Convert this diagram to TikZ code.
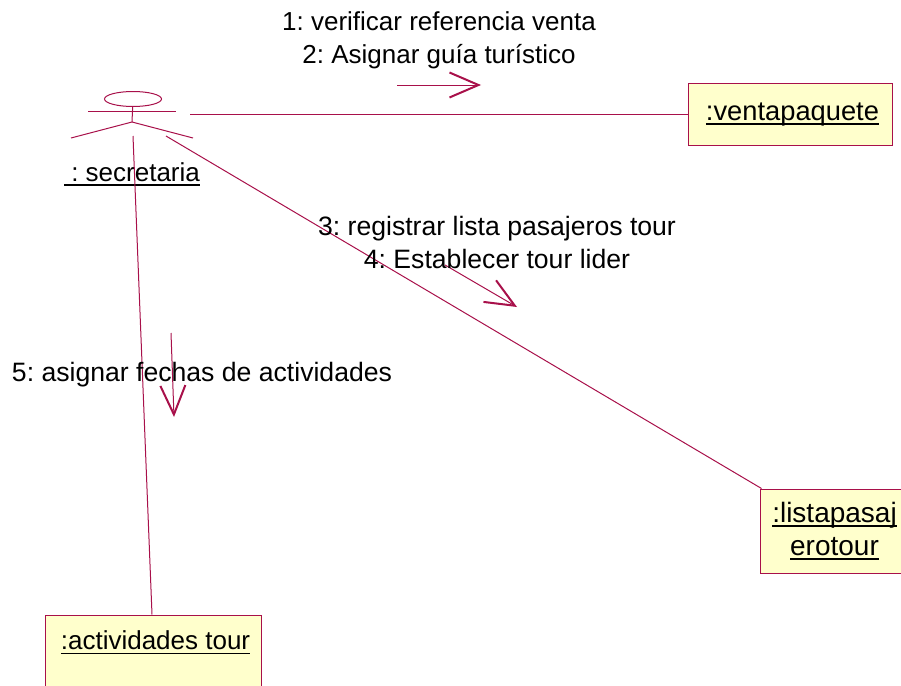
\documentclass[tikz,border=0pt]{standalone}
\usepackage{fontspec}
\setmainfont{Liberation Sans}
\usepackage{tikz}
\usetikzlibrary{arrows.meta,shapes.geometric}
\definecolor{umlline}{RGB}{168,16,74}
\definecolor{umlfill}{RGB}{255,255,204}
\newcommand{\objname}[1]{\leavevmode\setbox0\hbox{#1}\rlap{\rule[-4.5pt]{\wd0}{1.8pt}}\box0}
\newcommand{\textsized}[1]{\fontsize{#1}{33}\selectfont}
\frenchspacing

\begin{document}
\begin{tikzpicture}[x=1pt,y=-1pt,>={Straight Barb[length=29pt,width=25pt,line width=2pt]},
                    font=\textsized{26},line width=1pt]
  \tikzstyle{every object}=[draw=umlline,fill=umlfill,text=black,rectangle,align=center,inner sep=0pt]
  \tikzstyle{link}=[draw=umlline,-]
  \tikzstyle{message}=[draw=umlline,->]
  \tikzstyle{label}=[align=center,inner sep=0pt]

  \useasboundingbox (0,0) rectangle (901,685);
  \clip (0,0) rectangle (901,685);

  % actor
  \node[ellipse,draw=umlline,minimum width=57pt,minimum height=15pt,inner sep=0pt] (head) at (133,99) {};
  \coordinate (neck) at (132,122);
  \coordinate (armleft) at (88,111);
  \coordinate (armright) at (176,111);
  \coordinate (legleft) at (71,138);
  \coordinate (legright) at (193,138);
  \node[label] (secretaria) at (132,174) {\objname{\ : secretaria}};

  % objects
  \node[every object,minimum width=204pt,minimum height=62pt,font=\textsized{27.3}] (ventapaquete) at (790,114.5) {\hspace*{5pt}\objname{:ventapaquete}};
  \node[every object,minimum width=142pt,minimum height=84pt,font=\textsized{28}] (listapasajerotour) at (831,531) {\hspace*{7pt}\objname{:listapasaj}\\\hspace*{7pt}\objname{erotour}};
  \node[every object,minimum width=216pt,minimum height=84pt] (actividades) at (153,657) {\hspace*{5pt}\objname{:actividades tour}\\~};

  % free ends of the links and of the message arrows
  \coordinate (linkv) at (190,114.5);
  \coordinate (linkl) at (166,136);
  \coordinate (linka) at (133,136);
  \coordinate (m1a) at (397,85);
  \coordinate (m1b) at (481,85);
  \coordinate (m3a) at (445,265);
  \coordinate (m3b) at (517,307);
  \coordinate (m5a) at (171,333);
  \coordinate (m5b) at (174,417);

  \draw[link] (head) -- (neck);
  \draw[link] (armleft) -- (armright);
  \draw[link] (legleft) -- (neck) -- (legright);

  \path[link] (linkv) edge (ventapaquete.west)
              (linkl) edge ([xshift=2pt]listapasajerotour.north west)
              (linka) edge ([xshift=-1pt]actividades.north);

  \draw[message] (m1a) -- (m1b);
  \draw[message] (m3a) -- (m3b);
  \draw[message] (m5a) -- (m5b);

  \node[label] (msgventa) at (439,40) {1: verificar referencia venta\\2: Asignar guía turístico};
  \node[label,font=\textsized{26.6}] (msglista) at (497,242) {3: registrar lista pasajeros tour\\4: Establecer tour lider};
  \node[label,font=\textsized{26.6}] (msgfechas) at (202,375) {5: asignar fechas de actividades};
\end{tikzpicture}
\end{document}
